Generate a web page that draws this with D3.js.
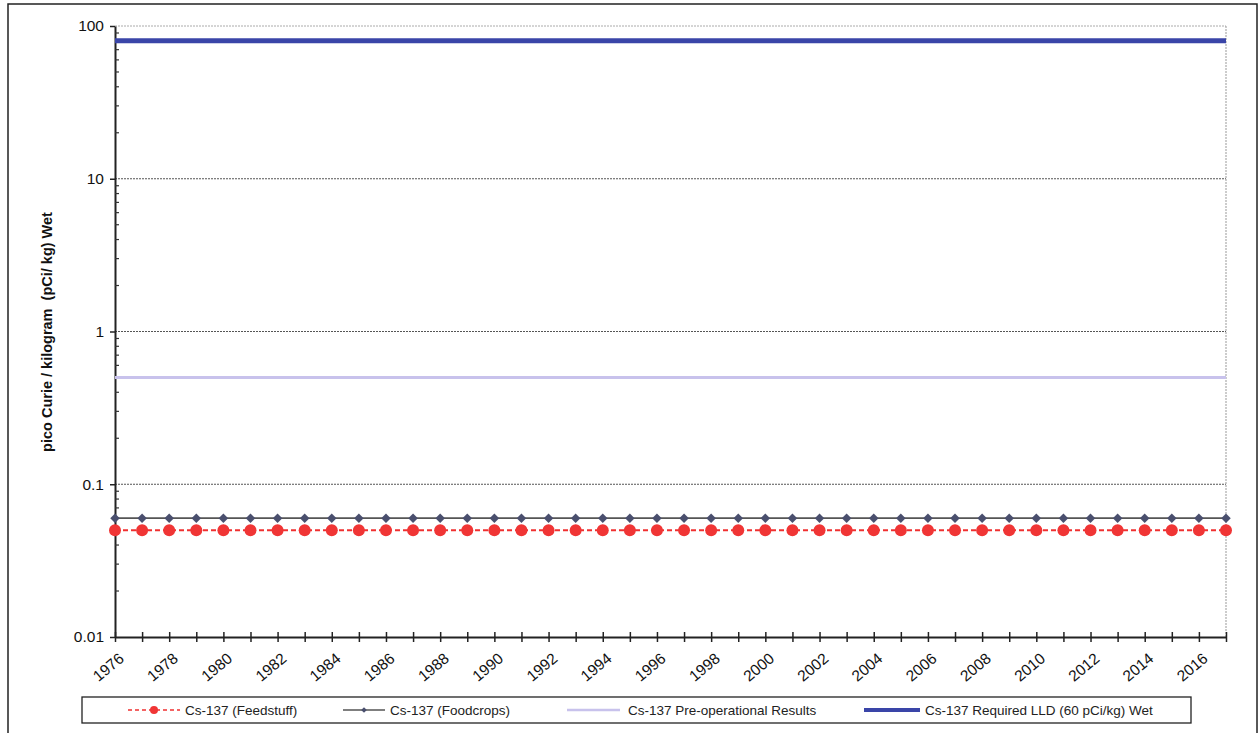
<!DOCTYPE html>
<html>
<head>
<meta charset="utf-8">
<script src="https://cdn.jsdelivr.net/npm/d3@7"></script>
<style>
  body { margin: 0; background: #fff; }
  text { font-family: "Liberation Sans", Arial, sans-serif; }
</style>
</head>
<body>
<svg></svg>
<script>
// chart data
const years = d3.range(1976, 2018);
const feedstuff = years.map(() => 0.05);
const foodcrops = years.map(() => 0.06);
const preOperational = years.map(() => 0.5);
const requiredLLD = years.map(() => 80);
const yTicks = [0.01, 0.1, 1, 10, 100];
const legendLabels = ["Cs-137 (Feedstuff)", "Cs-137 (Foodcrops)", "Cs-137 Pre-operational Results", "Cs-137 Required LLD (60 pCi/kg) Wet"];

let width = 1259;
let height = 733;
const plot = { left: 115, right: 1226, top: 26, bottom: 637 };

const svg = d3.select('svg').attr('width', width).attr('height', height);

// outer frame
svg.append('rect').attr('x', 8).attr('y', 4).attr('width', 1249).attr('height', 740)
  .attr('fill', 'none').attr('stroke', '#222').attr('stroke-width', 1.5);

const xScale = d3.scaleLinear().domain([1976, 2017]).range([plot.left, plot.right]);
const yScale = d3.scaleLog().domain([0.01, 100]).range([plot.bottom, plot.top]);

// gridlines
svg.append('g').selectAll('line').data(yTicks.slice(1)).enter().append('line')
  .attr('x1', plot.left).attr('x2', plot.right)
  .attr('y1', d => yScale(d)).attr('y2', d => yScale(d))
  .attr('stroke', (d) => d == 100 ? '#aaa' : '#555').attr('stroke-width', 1)
  .attr('stroke-dasharray', '2,1');

// right border
svg.append('line').attr('x1', plot.right).attr('x2', plot.right)
  .attr('y1', plot.top).attr('y2', plot.bottom)
  .attr('stroke', '#999').attr('stroke-dasharray', '2,1');

// y axis
const yAxis = d3.axisLeft(yScale).tickValues(yTicks).tickFormat(d => d3.format('~g')(d)).tickSize(5).tickSizeOuter(0);
const gy = svg.append('g').attr('transform', 'translate(' + plot.left + ',0)').call(yAxis);
gy.select('.domain').attr('stroke', '#222').attr('stroke-width', 2);
gy.selectAll('.tick line').attr('stroke', '#222').attr('stroke-width', 1.5);
gy.selectAll('.tick text').attr('font-size', 15.5).attr('fill', '#111').attr('dx', -3)
  .style('font-family', '"Liberation Sans", Arial, sans-serif');

// minor log ticks (inside)
const minor = [];
[0.01, 0.1, 1, 10].forEach(b => { for (let k = 2; k <= 9; k++) minor.push(b * k); });
svg.append('g').selectAll('line').data(minor).enter().append('line')
  .attr('x1', plot.left).attr('x2', plot.left + 4)
  .attr('y1', d => yScale(d)).attr('y2', d => yScale(d))
  .attr('stroke', '#333').attr('stroke-width', 1.2);

// x axis
const xAxis = d3.axisBottom(xScale).tickValues(years)
  .tickFormat(d => (d % 2 == 0 && d < 2017) ? d : '').tickSize(6).tickSizeOuter(0);
const gx = svg.append('g').attr('transform', 'translate(0,' + plot.bottom + ')').call(xAxis);
gx.select('.domain').attr('stroke', '#222').attr('stroke-width', 2);
gx.selectAll('.tick line').attr('stroke', '#222').attr('stroke-width', 1.5).attr('y1', -5).attr('y2', 5);
gx.selectAll('.tick text').attr('font-size', 15.5).attr('fill', '#111')
  .style('font-family', '"Liberation Sans", Arial, sans-serif')
  .attr('text-anchor', 'end').attr('y', 0).attr('dy', '0.35em')
  .attr('transform', 'translate(6,19) rotate(-40)');

// y label
svg.append('text').attr('transform', 'translate(52,332) rotate(-90)')
  .attr('text-anchor', 'middle').attr('font-size', 14.5).attr('font-weight', 'bold').attr('fill', '#111')
  .attr('xml:space', 'preserve')
  .text('pico Curie / kilogram  (pCi/ kg) Wet');

const line = d3.line().x((d, i) => xScale(years[i])).y(d => yScale(d));

// LLD
svg.append('path').datum(requiredLLD).attr('d', line).attr('fill', 'none')
  .attr('stroke', '#3a45a8').attr('stroke-width', 5);
// pre-operational
svg.append('path').datum(preOperational).attr('d', line).attr('fill', 'none')
  .attr('stroke', '#c8c2ec').attr('stroke-width', 3);
// foodcrops
svg.append('path').datum(foodcrops).attr('d', line).attr('fill', 'none')
  .attr('stroke', '#555').attr('stroke-width', 1.8);
svg.append('g').selectAll('path').data(foodcrops).enter().append('path')
  .attr('d', d3.symbol().type(d3.symbolSquare).size(45))
  .attr('transform', (d, i) => 'translate(' + xScale(years[i]) + ',' + yScale(d) + ') rotate(45)')
  .attr('fill', '#4a4f6e');
// feedstuff
svg.append('path').datum(feedstuff).attr('d', line).attr('fill', 'none')
  .attr('stroke', '#f03030').attr('stroke-width', 1.8).attr('stroke-dasharray', '5,3');
svg.append('g').selectAll('circle').data(feedstuff).enter().append('circle')
  .attr('cx', (d, i) => xScale(years[i])).attr('cy', d => yScale(d)).attr('r', 6)
  .attr('fill', '#f03535');

// legend
const lg = svg.append('g');
lg.append('rect').attr('x', 82).attr('y', 697).attr('width', 1109).attr('height', 26)
  .attr('fill', '#fff').attr('stroke', '#222').attr('stroke-width', 1.3);
const ly = 710;
const legendItems = [
  { x1: 128, x2: 180, tx: 185, color: '#f03030', w: 1.5, dash: '4,3', mark: 'circle' },
  { x1: 343, x2: 385, tx: 390, color: '#555', w: 1.3, dash: null, mark: 'diamond' },
  { x1: 567, x2: 620, tx: 628, color: '#c8c2ec', w: 2.5, dash: null, mark: null },
  { x1: 864, x2: 920, tx: 925, color: '#3a45a8', w: 4, dash: null, mark: null }
];
legendItems.forEach((it, i) => {
  lg.append('line').attr('x1', it.x1).attr('x2', it.x2).attr('y1', ly).attr('y2', ly)
    .attr('stroke', it.color).attr('stroke-width', it.w).attr('stroke-dasharray', it.dash);
  const mx = (it.x1 + it.x2) / 2;
  if (it.mark == 'circle') {
    lg.append('circle').attr('cx', mx).attr('cy', ly).attr('r', 4).attr('fill', '#f03535');
  } else if (it.mark == 'diamond') {
    lg.append('path').attr('d', d3.symbol().type(d3.symbolSquare).size(16))
      .attr('transform', 'translate(' + mx + ',' + ly + ') rotate(45)').attr('fill', '#4a4f6e');
  }
  lg.append('text').attr('x', it.tx).attr('y', ly + 4.5).attr('font-size', 13.5).attr('fill', '#222')
    .text(legendLabels[i]);
});
</script>
</body>
</html>
